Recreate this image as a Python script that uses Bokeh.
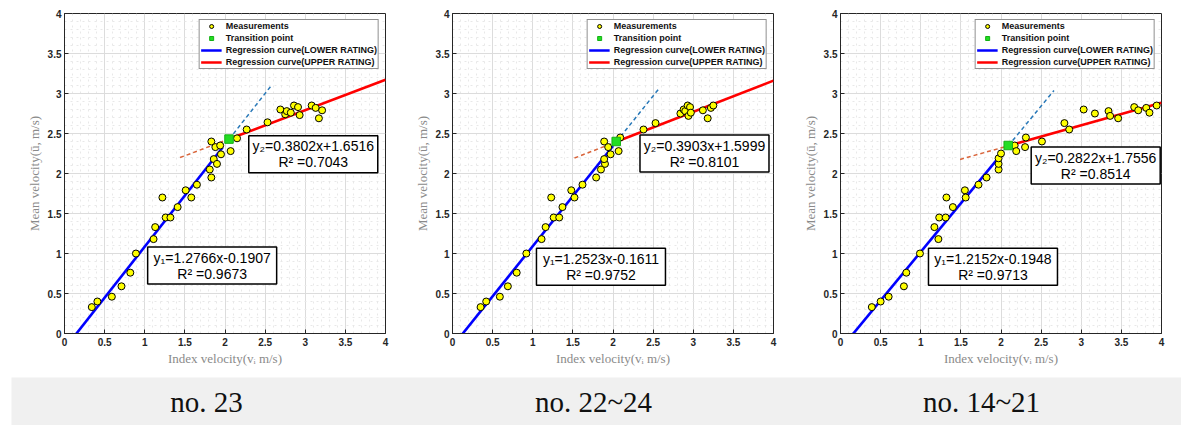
from bokeh.plotting import figure
from bokeh.layouts import column, row
from bokeh.models import Range1d, FixedTicker, NumeralTickFormatter, Legend, LegendItem
from bokeh.core.properties import value
from bokeh.embed import file_html
from bokeh.resources import INLINE

# ---------------- data ----------------
CAPTIONS = ["no. 23", "no. 22~24", "no. 14~21"]
TICKS = [0, 0.5, 1, 1.5, 2, 2.5, 3, 3.5, 4]
TICK_LABELS = ["0", "0.5", "1", "1.5", "2", "2.5", "3", "3.5", "4"]

# Panel 1 (no. 23)
p1_x = [0.34, 0.41, 0.59, 0.71, 0.82, 0.89, 1.11, 1.13, 1.22, 1.26, 1.32, 1.41, 1.51, 1.58,
        1.65, 1.81, 1.83, 1.83, 1.86, 1.88, 1.90, 1.94, 1.95, 2.07, 2.15, 2.27, 2.53, 2.69,
        2.75, 2.77, 2.82, 2.86, 2.91, 2.93, 3.08, 3.13, 3.17, 3.21]
p1_y = [0.33, 0.40, 0.46, 0.59, 0.76, 1.00, 1.18, 1.33, 1.70, 1.45, 1.45, 1.58, 1.79, 1.70,
        1.86, 2.05, 1.95, 2.40, 2.18, 2.33, 2.12, 2.35, 2.24, 2.28, 2.44, 2.55, 2.64, 2.80,
        2.74, 2.78, 2.76, 2.85, 2.83, 2.73, 2.85, 2.82, 2.69, 2.79]
# Panel 2 (no. 22~24)
p2_x = [0.35, 0.42, 0.59, 0.69, 0.80, 0.92, 1.11, 1.16, 1.23, 1.26, 1.33, 1.37, 1.48, 1.52,
        1.62, 1.79, 1.85, 1.89, 1.90, 1.89, 1.94, 1.97, 2.07, 2.09, 2.38, 2.53, 2.84, 2.88,
        2.90, 2.93, 2.94, 2.96, 2.97, 3.12, 3.18, 3.22, 3.25]
p2_y = [0.33, 0.40, 0.46, 0.59, 0.76, 1.00, 1.18, 1.33, 1.70, 1.45, 1.45, 1.58, 1.79, 1.70,
        1.86, 1.95, 2.05, 2.40, 2.12, 2.18, 2.33, 2.24, 2.28, 2.45, 2.55, 2.63, 2.75, 2.80,
        2.78, 2.85, 2.72, 2.83, 2.76, 2.79, 2.69, 2.82, 2.85]
# Panel 3 (no. 14~21)
p3_x = [0.39, 0.50, 0.60, 0.79, 0.82, 0.99, 1.17, 1.22, 1.23, 1.31, 1.32, 1.40, 1.55, 1.56,
        1.72, 1.82, 1.97, 1.97, 1.97, 2.00, 2.17, 2.19, 2.30, 2.31, 2.51, 2.79, 2.85, 3.03,
        3.17, 3.34, 3.36, 3.46, 3.66, 3.71, 3.81, 3.85, 3.94]
p3_y = [0.33, 0.40, 0.46, 0.59, 0.76, 1.00, 1.33, 1.18, 1.45, 1.45, 1.70, 1.58, 1.79, 1.70,
        1.86, 1.95, 2.05, 2.12, 2.19, 2.25, 2.35, 2.28, 2.33, 2.45, 2.40, 2.63, 2.55, 2.80,
        2.75, 2.78, 2.72, 2.69, 2.83, 2.79, 2.82, 2.76, 2.85]

MEAS_X = [p1_x, p2_x, p3_x]
MEAS_Y = [p1_y, p2_y, p3_y]

# regression coefficients (slope, intercept, R^2)
LOWER_SLOPE = [1.2766, 1.2523, 1.2152]
LOWER_INTERCEPT = [-0.1907, -0.1611, -0.1948]
LOWER_R2 = [0.9673, 0.9752, 0.9713]
UPPER_SLOPE = [0.3802, 0.3903, 0.2822]
UPPER_INTERCEPT = [1.6516, 1.5999, 1.7556]
UPPER_R2 = [0.7043, 0.8101, 0.8514]

# transition points
TRANS_X = [2.05, 2.04, 2.09]
TRANS_Y = [2.43, 2.40, 2.35]

# extents of drawn line segments (index velocity)
LOWER_END = [1.97, 2.00, 1.97]
LOWER_DASH_END = [2.57, 2.57, 2.66]
UPPER_DASH_START = [1.44, 1.52, 1.49]
X_MAX = 4

# ---------------- layout constants ----------------
PANEL_W = [398, 390, 392]
PANEL_BORDER_L = [64, 54, 52]
FRAME_W = 321
FRAME_H = 320
BORDER_T = 13
PANEL_H = 373
UPPER_BOX = [(3.10, 2.24), (3.14, 2.25), (3.18, 2.10)]
LOWER_BOX = [(1.84, 0.85), (1.85, 0.835), (1.90, 0.835)]
CAPTION_X = [206, 593, 981]

BOX_FONT = "Liberation Sans"
MINOR = [round(i * 0.1, 1) for i in range(0, 41) if i % 5 != 0]


def eq_text(sub, a, b):
    return f"y{sub}={a:.4f}x{b:+.4f}"


def make_panel(i):
    bl = PANEL_BORDER_L[i]
    p = figure(width=PANEL_W[i], height=PANEL_H, output_backend="svg", toolbar_location=None,
               x_range=Range1d(0, 4), y_range=Range1d(0, 4),
               min_border_left=bl, min_border_right=PANEL_W[i] - bl - FRAME_W,
               min_border_top=BORDER_T, min_border_bottom=PANEL_H - BORDER_T - FRAME_H)
    p.background_fill_color = "white"
    p.border_fill_color = "white"
    p.outline_line_color = "#262626"
    p.outline_line_width = 1

    overrides = {float(t): l for t, l in zip(TICKS, TICK_LABELS)}
    for ax in (p.xaxis[0], p.yaxis[0]):
        ax.ticker = FixedTicker(ticks=TICKS, minor_ticks=MINOR)
        ax.formatter = NumeralTickFormatter(format="0.[0]")
        ax.major_label_overrides = overrides
        ax.major_label_text_font = "Liberation Sans"
        ax.major_label_text_font_style = "bold"
        ax.major_label_text_font_size = "10px"
        ax.major_label_text_color = "#262626"
        ax.axis_line_color = "#262626"
        ax.major_tick_in = 4
        ax.major_tick_out = 0
        ax.major_tick_line_color = "#262626"
        ax.minor_tick_in = 0
        ax.minor_tick_out = 0
        ax.axis_label_text_font = "Liberation Serif"
        ax.axis_label_text_font_style = "normal"
        ax.axis_label_text_font_size = "13px"
        ax.axis_label_text_color = "#8a8a8a"
    p.xaxis.major_label_standoff = 4
    p.yaxis.major_label_standoff = 3
    p.xaxis.axis_label_standoff = 2
    p.yaxis.axis_label_standoff = 3
    p.xaxis.axis_label = "Index velocity(vᵢ m/s)"
    p.yaxis.axis_label = "Mean velocity(ū, m/s)"

    for g in (p.xgrid[0], p.ygrid[0]):
        g.grid_line_color = "#dcdcdc"
        g.grid_line_width = 1
        g.minor_grid_line_color = "#e8e8e8"
        g.minor_grid_line_dash = "dotted"
        g.minor_grid_line_width = 1

    a1, b1 = LOWER_SLOPE[i], LOWER_INTERCEPT[i]
    a2, b2 = UPPER_SLOPE[i], UPPER_INTERCEPT[i]
    tx, ty = TRANS_X[i], TRANS_Y[i]

    # dashed extensions
    xd1 = [tx, LOWER_DASH_END[i]]
    p.line(xd1, [a1 * v + b1 for v in xd1], line_color="#2878b8", line_width=1.5, line_dash="4 3")
    xd2 = [UPPER_DASH_START[i], tx]
    p.line(xd2, [a2 * v + b2 for v in xd2], line_color="#d9643a", line_width=1.5, line_dash="4 3")

    # regression lines
    xl = [0, LOWER_END[i]]
    r_low = p.line(xl, [a1 * v + b1 for v in xl], line_color="#0000ff", line_width=2.6)
    xu = [tx, X_MAX]
    r_up = p.line(xu, [a2 * v + b2 for v in xu], line_color="#ff0000", line_width=2.6)

    # measurements
    r_meas = p.scatter(MEAS_X[i], MEAS_Y[i], marker="circle", size=7, fill_color="#ffff00",
                       line_color="black", line_width=1)
    r_tr = p.scatter([tx], [ty], marker="square", size=8.5, fill_color="#22dd22",
                     line_color="#14b014", line_width=1)

    # equation boxes
    for (cx, cy), l1, l2 in ((UPPER_BOX[i], eq_text("₂", a2, b2), f"R² ={UPPER_R2[i]:.4f}"),
                             (LOWER_BOX[i], eq_text("₁", a1, b1), f"R² ={LOWER_R2[i]:.4f}")):
        p.rect(x=[cx], y=[cy], width=129, height=37, width_units="screen", height_units="screen",
               fill_color="white", line_color="black", line_width=1.5)
        p.text(x=[cx, cx], y=[cy, cy], text=[l1, l2], y_offset=[-8, 8],
               text_font=value(BOX_FONT), text_font_size="14px", text_align="center",
               text_baseline="middle", text_color="black")

    legend = Legend(items=[
        LegendItem(label="Measurements", renderers=[r_meas]),
        LegendItem(label="Transition point", renderers=[r_tr]),
        LegendItem(label="Regression curve(LOWER RATING)", renderers=[r_low]),
        LegendItem(label="Regression curve(UPPER RATING)", renderers=[r_up]),
    ], location="top_right")
    legend.margin = 6
    legend.padding = 1
    legend.spacing = 2
    legend.label_height = 10
    legend.glyph_height = 10
    legend.glyph_width = 21
    legend.label_standoff = 4
    legend.label_text_font = "Liberation Sans"
    legend.label_text_font_style = "bold"
    legend.label_text_font_size = "9px"
    legend.label_text_color = "#111111"
    legend.border_line_color = "#222222"
    legend.border_line_width = 0.8
    legend.background_fill_color = "white"
    legend.background_fill_alpha = 1
    p.add_layout(legend)
    return p


panels = [make_panel(i) for i in range(3)]

cap = figure(width=1181, height=52, output_backend="svg", toolbar_location=None,
             x_range=Range1d(11, 1181), y_range=Range1d(0, 1),
             x_axis_location=None, y_axis_location=None,
             min_border_left=11, min_border_right=0, min_border_top=4, min_border_bottom=0)
cap.grid.visible = False
cap.outline_line_color = None
cap.background_fill_color = "#f0f0f0"
cap.border_fill_color = "white"
cap.text(x=CAPTION_X, y=[0.5] * len(CAPTIONS), text=CAPTIONS,
         text_font=value("Liberation Serif"), text_font_size="29px",
         text_align="center", text_baseline="middle", text_color="#111111")

layout = column(row(*panels), cap)
open("out.html", "w").write(file_html(layout, INLINE))
